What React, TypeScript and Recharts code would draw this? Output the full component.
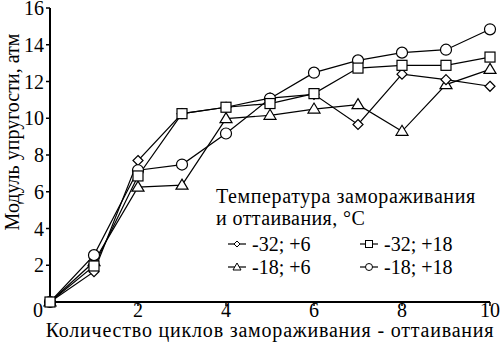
import { LineChart, Line, XAxis, YAxis } from 'recharts';

const FONT = "'Liberation Serif', 'DejaVu Serif', serif";

const cycles = [0, 1, 2, 3, 4, 5, 6, 7, 8, 9, 10];
// -32; +6 (ромб)
const m32p6 = [0, 1.65, 7.7, 10.25, 10.6, 11.1, 11.3, 9.66, 12.4, 12.1, 11.74];
// -32; +18 (квадрат)
const m32p18 = [0, 1.96, 6.86, 10.25, 10.6, 10.8, 11.34, 12.73, 12.88, 12.88, 13.33];
// -18; +6 (треугольник)
const m18p6 = [0, 2.19, 6.25, 6.36, 9.98, 10.16, 10.5, 10.74, 9.29, 11.83, 12.66];
// -18; +18 (круг)
const m18p18 = [0, 2.55, 7.17, 7.48, 9.17, 11.07, 12.48, 13.15, 13.57, 13.73, 14.84];

const xTicks = [0, 2, 4, 6, 8, 10];
const yTicks = [2, 4, 6, 8, 10, 12, 14, 16];

const data = cycles.map((c, i) => ({
  cycle: c,
  m32p6: m32p6[i],
  m32p18: m32p18[i],
  m18p6: m18p6[i],
  m18p18: m18p18[i],
}));

const Diamond = (p: any) => {
  const { cx, cy, index } = p;
  const s = 5;
  return <path key={`d${index}`} d={`M${cx},${cy - s}L${cx + s},${cy}L${cx},${cy + s}L${cx - s},${cy}Z`} fill="#fff" stroke="#000" strokeWidth={1.2} />;
};
const Square = (p: any) => {
  const { cx, cy, index } = p;
  return <rect key={`s${index}`} x={cx - 5} y={cy - 5} width={10} height={10} fill="#fff" stroke="#000" strokeWidth={1.2} />;
};
const Triangle = (p: any) => {
  const { cx, cy, index } = p;
  return <path key={`t${index}`} d={`M${cx},${cy - 6}L${cx + 6},${cy + 4}L${cx - 6},${cy + 4}Z`} fill="#fff" stroke="#000" strokeWidth={1.2} />;
};
const Circle = (p: any) => {
  const { cx, cy, index } = p;
  return <circle key={`c${index}`} cx={cx} cy={cy} r={5.5} fill="#fff" stroke="#000" strokeWidth={1.2} />;
};

const XTick = (p: any) => {
  const { x, y, payload } = p;
  const dx = payload.value === 0 ? -12 : 0;
  return (
    <text x={x + dx} y={y + 9} textAnchor="middle" style={{ fontFamily: FONT }} fontSize={20} fill="#000">
      {payload.value}
    </text>
  );
};

const YTick = (p: any) => {
  const { x, y, payload } = p;
  return (
    <text x={x} y={y} dy={7} textAnchor="end" style={{ fontFamily: FONT }} fontSize={20} fill="#000">
      {payload.value}
    </text>
  );
};

const icon = (kind: string) => {
  let m = null;
  if (kind === 'd') m = <path d="M9,3L12,6L9,9L6,6Z" fill="#fff" stroke="#000" />;
  if (kind === 's') m = <rect x={5.5} y={2.5} width={7} height={7} fill="#fff" stroke="#000" />;
  if (kind === 't') m = <path d="M9,2L13,9L5,9Z" fill="#fff" stroke="#000" />;
  if (kind === 'c') m = <circle cx={9} cy={6} r={3.5} fill="#fff" stroke="#000" />;
  return (
    <svg width={18} height={12} style={{ marginRight: 6, display: 'block' }}>
      <line x1={0} y1={6} x2={18} y2={6} stroke="#000" strokeWidth={1.2} />
      {m}
    </svg>
  );
};

const legendItems = [
  { k: 'd', t: '-32; +6' },
  { k: 's', t: '-32; +18' },
  { k: 't', t: '-18; +6' },
  { k: 'c', t: '-18; +18' },
];

const LegendBox = () => (
  <div style={{ position: 'absolute', left: 216, top: 185, fontFamily: FONT, fontSize: 20, color: '#000', lineHeight: '22px' }}>
    <div style={{ letterSpacing: 0.6 }}>Температура замораживания</div>
    <div style={{ letterSpacing: 0.4 }}>и оттаивания, °C</div>
    <div style={{ display: 'flex', flexWrap: 'wrap', paddingLeft: 12, marginTop: 3, width: 290 }}>
      {legendItems.map((it) => (
        <div key={it.t} style={{ width: 132, display: 'flex', alignItems: 'center', height: 23 }}>
          {icon(it.k)}
          <span>{it.t}</span>
        </div>
      ))}
    </div>
  </div>
);

const YLabel = () => (
  <text x={12} y={132} transform="rotate(-90 12 132)" textAnchor="middle" dominantBaseline="central" style={{ fontFamily: FONT }} fontSize={20} fill="#000">
    Модуль упругости, атм
  </text>
);

export default function App() {
  return (
    <div style={{ position: 'absolute', left: 0, top: 0, width: 500, height: 349, background: '#fff' }}>
      <LineChart width={500} height={349} data={data} margin={{ top: 8, right: 10, left: 0, bottom: 0 }}>
        <XAxis
          dataKey="cycle"
          type="number"
          domain={[0, 10]}
          ticks={xTicks}
          interval={0}
          tick={<XTick />}
          tickSize={4}
          height={47}
          axisLine={{ stroke: '#000', strokeWidth: 2 }}
          tickLine={{ stroke: '#000', strokeWidth: 1.5 }}
          label={{ value: 'Количество циклов замораживания - оттаивания', position: 'insideBottom', offset: 12, style: { fontFamily: FONT, letterSpacing: 0.8 }, fontSize: 20, fill: '#000' }}
        />
        <YAxis
          type="number"
          domain={[0, 16]}
          ticks={yTicks}
          interval={0}
          width={50}
          tickSize={4}
          axisLine={{ stroke: '#000', strokeWidth: 2 }}
          tickLine={{ stroke: '#000', strokeWidth: 1.5 }}
          tick={<YTick />}
          label={<YLabel />}
        />
        <Line dataKey="m18p6" stroke="#000" strokeWidth={1.2} dot={<Triangle />} isAnimationActive={false} />
        <Line dataKey="m32p6" stroke="#000" strokeWidth={1.2} dot={<Diamond />} isAnimationActive={false} />
        <Line dataKey="m18p18" stroke="#000" strokeWidth={1.2} dot={<Circle />} isAnimationActive={false} />
        <Line dataKey="m32p18" stroke="#000" strokeWidth={1.2} dot={<Square />} isAnimationActive={false} />
      </LineChart>
      <LegendBox />
    </div>
  );
}
